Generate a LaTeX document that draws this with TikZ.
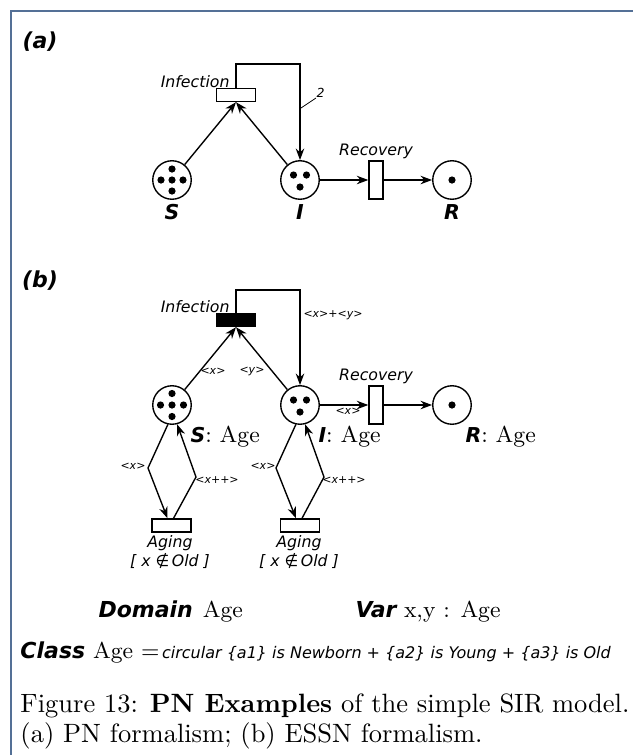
\documentclass[tikz,border=0pt]{standalone}
\usepackage{fontspec}
\newfontfamily\dvs{DejaVu Sans}[ItalicFont={DejaVu Sans Oblique},BoldFont={DejaVu Sans Bold},BoldItalicFont={DejaVu Sans Bold Oblique}]
\usepackage{tikz}
\usetikzlibrary{arrows.meta,positioning}
\definecolor{framecol}{RGB}{84,112,150}

\tikzset{
  place/.style={draw,circle,line width=0.55pt,minimum size=15.4pt,inner sep=0pt},
  trans/.style={draw,rectangle,line width=0.55pt,inner sep=0pt,fill=white},
  htrans/.style={trans,minimum width=15.6pt,minimum height=5.2pt},
  vtrans/.style={trans,minimum width=5.6pt,minimum height=15.2pt},
  arc/.style={line width=0.55pt,-{Stealth[length=4.6pt,width=3.4pt]}},
  token/.style={fill=black},
  tname/.style={font=\dvs\itshape\fontsize{6.3}{7.6}\selectfont,inner sep=0pt},
  pname/.style={font=\dvs\bfseries\itshape\fontsize{8.2}{9}\selectfont,inner sep=0pt},
  ann/.style={font=\dvs\itshape\fontsize{4.4}{5}\selectfont,inner sep=0pt},
  kw/.style={font=\dvs\bfseries\itshape\fontsize{8.8}{10}\selectfont},
  txt/.style={inner sep=0pt,anchor=west,font=\fontsize{9.2}{11}\selectfont}
}

\begin{document}
\begin{tikzpicture}[x=0.4pt,y=-0.4pt]

		\useasboundingbox
		(0,0)
		rectangle
		(633,755);

		% frame
		\draw[framecol,line width=0.8pt]
		(633,11) -- (11,11) -- (11,755);

		% (a) PN
		\node[kw,inner sep=0pt] (labA) at (40,42) {(a)};

		\node[place] (Sa) at (172,180) {};
		\node[place] (Ia) at (300,180) {};
		\node[place] (Ra) at (452,180) {};
		\node[htrans] (InfA) at (236,95) {};
		\node[vtrans] (RecA) at (376,180) {};

		\fill[token] (Sa.center) circle (3.6);
		\fill[token] ([shift={(-11,0)}]Sa.center) circle (3.6);
		\fill[token] ([shift={(11,0)}]Sa.center) circle (3.6);
		\fill[token] ([shift={(0,-11)}]Sa.center) circle (3.6);
		\fill[token] ([shift={(0,11)}]Sa.center) circle (3.6);
		\fill[token] ([shift={(-6.5,-5)}]Ia.center) circle (3.6);
		\fill[token] ([shift={(6.5,-5)}]Ia.center) circle (3.6);
		\fill[token] ([shift={(0,7)}]Ia.center) circle (3.6);
		\fill[token] (Ra.center) circle (3.6);

		\node[tname,anchor=east] (InfAl) at (230,82) {Infection};
		\node[tname] (RecAl) at (376,151) {Recovery};
		\node[pname] (SaL) at (172,212) {S};
		\node[pname] (IaL) at (300,212) {I};
		\node[pname] (RaL) at (452,212) {R};

		\coordinate (topA) at (268,64);
		\draw[arc] (Sa) -- (InfA.south);
		\draw[arc] (Ia) -- (InfA.south);
		\draw[arc] (InfA.north) |- (topA) -| (Ia.north);
		\draw[arc] (Ia) -- (RecA);
		\draw[arc] (RecA) -- (Ra);

		\node[ann,font=\dvs\itshape\fontsize{5}{6}\selectfont,anchor=south west] (wA) at (316,98) {2};
		\coordinate (tickA) at (301,108);
		\draw[line width=0.3pt] (tickA) -- (wA.south west);

		% (b) ESSN
		\node[kw,inner sep=0pt] (labB) at (40,281) {(b)};

		\node[place] (Sb) at (172,405) {};
		\node[place] (Ib) at (300,405) {};
		\node[place] (Rb) at (452,405) {};
		\node[htrans,fill=black] (InfB) at (236,320) {};
		\node[vtrans] (RecB) at (376,405) {};
		\node[htrans] (AgeS) at (171.5,525.5) {};
		\node[htrans] (AgeI) at (300,525.5) {};

		\fill[token] (Sb.center) circle (3.6);
		\fill[token] ([shift={(-11.5,0)}]Sb.center) circle (3.6);
		\fill[token] ([shift={(11.5,0)}]Sb.center) circle (3.6);
		\fill[token] ([shift={(0,-11.5)}]Sb.center) circle (3.6);
		\fill[token] ([shift={(0,11.5)}]Sb.center) circle (3.6);
		\fill[token] ([shift={(-6.5,-5)}]Ib.center) circle (3.6);
		\fill[token] ([shift={(6.5,-5)}]Ib.center) circle (3.6);
		\fill[token] ([shift={(0,7)}]Ib.center) circle (3.6);
		\fill[token] (Rb.center) circle (3.6);

		\node[tname,anchor=east] (InfBl) at (230,307) {Infection};
		\node[tname] (RecBl) at (376,376) {Recovery};
		\node[txt] (SbL) at (190,437) {{\dvs\bfseries\itshape\fontsize{8.2}{9}\selectfont S}: Age};
		\node[txt] (IbL) at (318,437) {{\dvs\bfseries\itshape\fontsize{8.2}{9}\selectfont I}: Age};
		\node[txt] (RbL) at (465,437) {{\dvs\bfseries\itshape\fontsize{8.2}{9}\selectfont R}: Age};
		\node[tname,align=center,anchor=north] (AgeSl) at (170,535) {Aging\\{[} x \char"2209\,Old {]}};
		\node[tname,align=center,anchor=north] (AgeIl) at (299,535) {Aging\\{[} x \char"2209\,Old {]}};

		\coordinate (topB) at (268,290);
		\draw[arc] (Sb) -- (InfB.south);
		\draw[arc] (Ib) -- (InfB.south);
		\draw[arc] (InfB.north) |- (topB) -| (Ib.north);
		\draw[arc] (Ib) -- (RecB);
		\draw[arc] (RecB) -- (Rb);

		\coordinate (SdL) at (148,468);
		\coordinate (SdR) at (196,477);
		\coordinate (IdL) at (276,468);
		\coordinate (IdR) at (324,477);
		\draw[arc] (Sb.258) -- (SdL) -- ([shift={(-4,0)}]AgeS.north);
		\draw[arc] ([shift={(2,0)}]AgeS.north) -- (SdR) -- (Sb.285);
		\draw[arc] (Ib.258) -- (IdL) -- ([shift={(-4,0)}]AgeI.north);
		\draw[arc] ([shift={(2,0)}]AgeI.north) -- (IdR) -- (Ib.285);

		\node[ann] (xSb) at (213,371) {<x>};
		\node[ann] (yIb) at (252,371) {<y>};
		\node[ann,anchor=west] (xyB) at (303,315) {<x>+<y>};
		\node[ann] (xRec) at (348,411) {<x>};
		\node[ann] (xAgS) at (133,466) {<x>};
		\node[ann] (ppAgS) at (217,480) {<x++>};
		\node[ann] (xAgI) at (263,466) {<x>};
		\node[ann] (ppAgI) at (344,480) {<x++>};

		% declarations
		\node[txt] (dom) at (98,612) {{\dvs\bfseries\itshape\fontsize{8.8}{10}\selectfont Domain}\hspace{4pt}Age};
		\node[txt] (var) at (355,612) {{\dvs\bfseries\itshape\fontsize{8.8}{10}\selectfont Var}\hspace{3pt}x,y : Age};
		\node[txt] (cls) at (20,653) {{\dvs\bfseries\itshape\fontsize{8.8}{10}\selectfont Class} Age ={\dvs\itshape\fontsize{6.4}{7}\selectfont\,circular \{a1\} is Newborn + \{a2\} is Young + \{a3\} is Old}};

		% caption
		\node[txt,align=left,font=\fontsize{10.6}{12}\selectfont] (cap) at (20,721) {Figure 13: \textbf{PN Examples} of the simple SIR model.\\(a) PN formalism; (b) ESSN formalism.};

\end{tikzpicture}
\end{document}
